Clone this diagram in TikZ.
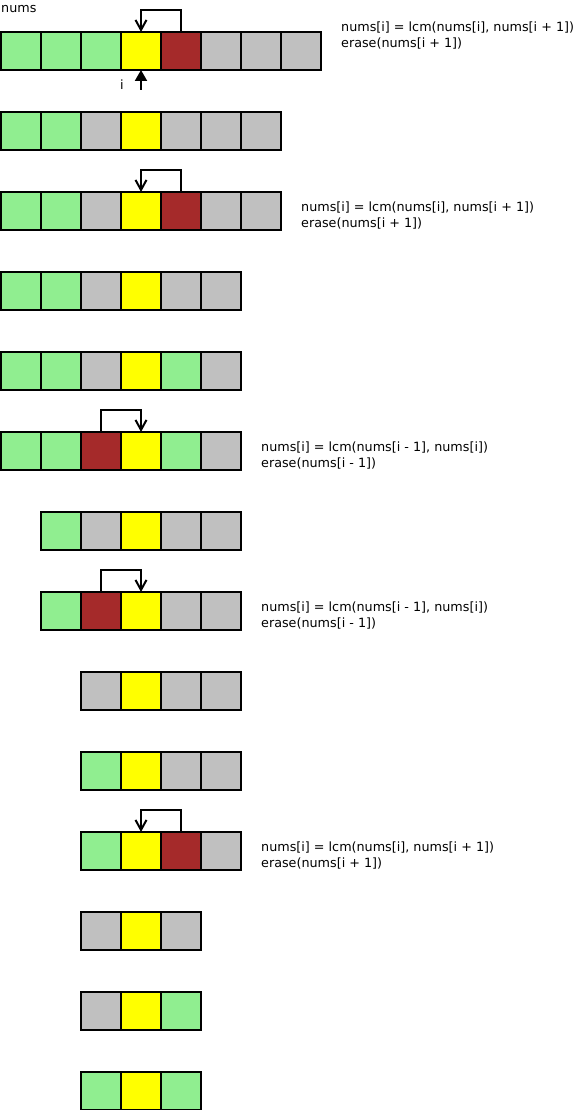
\documentclass[tikz,border=0pt]{standalone}
\usepackage{fontspec}
\setmainfont{DejaVu Sans}
\usetikzlibrary{arrows.meta, positioning}
\tikzset{
  font=\fontsize{12.75}{16}\selectfont,
  % Array cell
  cell/.style={draw, line width=2pt, minimum width=40pt, minimum height=38pt,
    inner sep=0pt, outer sep=0pt},
  % Cell colours
  done/.style={fill={rgb,255:red,144; green,238; blue,144}},
  cur/.style={fill={rgb,255:red,255; green,255; blue,0}},
  gone/.style={fill={rgb,255:red,165; green,42; blue,42}},
  rest/.style={fill={rgb,255:red,192; green,192; blue,192}},
  % Merge arrow
  mrg/.style={line width=2pt, -{Straight Barb[length=10pt, width=11pt]}},
  % Index pointer
  ptr/.style={line width=2pt, -{Triangle[length=11pt, width=12pt]}},
  % Operation text
  op/.style={align=left, inner sep=0pt, anchor=west},
}

\begin{document}
\begin{tikzpicture}[x=1pt, y=-1pt]

    \useasboundingbox (0,0) rectangle (574,1110);

    % rows of the array
    \foreach \row/\s/\l in {
      1/0/{done,done,done,cur,gone,rest,rest,rest},
      2/0/{done,done,rest,cur,rest,rest,rest},
      3/0/{done,done,rest,cur,gone,rest,rest},
      4/0/{done,done,rest,cur,rest,rest},
      5/0/{done,done,rest,cur,done,rest},
      6/0/{done,done,gone,cur,done,rest},
      7/1/{done,rest,cur,rest,rest},
      8/1/{done,gone,cur,rest,rest},
      9/2/{rest,cur,rest,rest},
      10/2/{done,cur,rest,rest},
      11/2/{done,cur,gone,rest},
      12/2/{rest,cur,rest},
      13/2/{rest,cur,done},
      14/2/{done,cur,done}}
    {
      \foreach \c [count=\k] in \l
        \node[cell, \c] (r\row c\k) at ({40*(\s+\k)-19}, {80*\row-29}) {};
    }

    \node[anchor=base west, inner sep=0pt] (arr) at (1,13) {nums};

    % index pointer
    \coordinate (ibase) at ([yshift=-20pt]r1c4.south);
    \draw[ptr] (ibase) -- (r1c4.south);
    \node[anchor=base, inner sep=0pt] (ilbl) at (122,90) {i};

    % merges
    \draw[mrg] (r1c5.north) -- ++(0,-22) -| (r1c4.north);
    \draw[mrg] (r3c5.north) -- ++(0,-22) -| (r3c4.north);
    \draw[mrg] (r6c3.north) -- ++(0,-22) -| (r6c4.north);
    \draw[mrg] (r8c2.north) -- ++(0,-22) -| (r8c3.north);
    \draw[mrg] (r11c3.north) -- ++(0,-22) -| (r11c2.north);

    \node[op] (op1) at (341,35.5)
      {nums[i] = lcm(nums[i], nums[i + 1])\\erase(nums[i + 1])};
    \node[op] (op3) at (301,215.5)
      {nums[i] = lcm(nums[i], nums[i + 1])\\erase(nums[i + 1])};
    \node[op] (op6) at (261,455.5)
      {nums[i] = lcm(nums[i - 1], nums[i])\\erase(nums[i - 1])};
    \node[op] (op8) at (261,615.5)
      {nums[i] = lcm(nums[i - 1], nums[i])\\erase(nums[i - 1])};
    \node[op] (op11) at (261,855.5)
      {nums[i] = lcm(nums[i], nums[i + 1])\\erase(nums[i + 1])};

  \end{tikzpicture}
\end{document}
